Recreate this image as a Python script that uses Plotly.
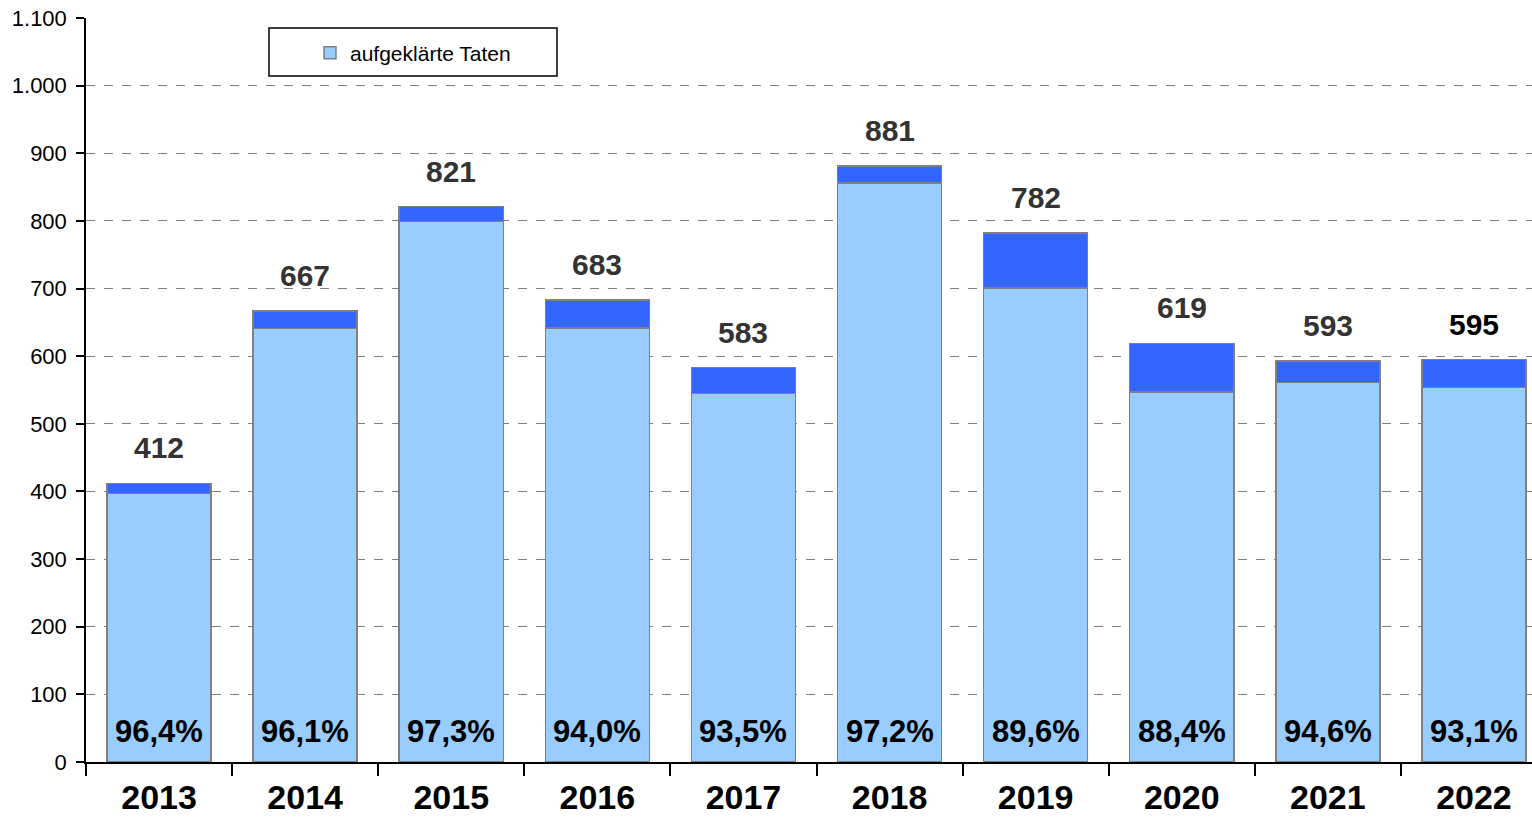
import plotly.graph_objects as go

years = ["2013", "2014", "2015", "2016", "2017", "2018", "2019", "2020", "2021", "2022"]
totals = [412, 667, 821, 683, 583, 881, 782, 619, 593, 595]
cleared = [397, 641, 799, 642, 545, 856, 701, 547, 561, 554]
rates = ["96,4%", "96,1%", "97,3%", "94,0%", "93,5%", "97,2%", "89,6%", "88,4%", "94,6%", "93,1%"]
uncleared = [t - c for t, c in zip(totals, cleared)]
total_labels = [str(t) for t in totals]
label_colors = ["#333333"] * 9 + ["#000000"]
y_ticks = [0, 100, 200, 300, 400, 500, 600, 700, 800, 900, 1000, 1100]
y_ticktext = ["0", "100", "200", "300", "400", "500", "600", "700", "800", "900", "1.000", "1.100"]

FONT = "Liberation Sans, Arial, sans-serif"

fig = go.Figure()
fig.add_trace(go.Bar(
    x=years, y=cleared, name="aufgeklärte Taten",
    marker=dict(color="#99CCFF", line=dict(color="#808080", width=1.5)),
))
fig.add_trace(go.Bar(
    x=years, y=uncleared, name="nicht aufgeklärt", showlegend=False,
    marker=dict(color="#3366FF", line=dict(color="#808080", width=1.5)),
))

annotations = []
# category axis: annotations are placed by category index
for i, (tot, lab, col) in enumerate(zip(totals, total_labels, label_colors)):
    annotations.append(dict(
        x=i, y=tot, xref="x", yref="y", text=lab, showarrow=False,
        yanchor="bottom", yshift=17,
        font=dict(family=FONT, size=30, color=col, weight="bold"),
    ))
for i, r in enumerate(rates):
    annotations.append(dict(
        x=i, y=0, xref="x", yref="y", text=r, showarrow=False,
        yanchor="bottom", yshift=11,
        font=dict(family=FONT, size=31, color="#000000", weight="bold"),
    ))

# plot area: x 86..1532 px, the last slot is cut by the right edge as in the reference
slot_px = 146.1
plot_w = 1532 - 86
x_range = [-0.5, -0.5 + plot_w / slot_px]

fig.update_layout(
    barmode="stack", bargap=0.288,
    width=1532, height=818,
    margin=dict(l=86, r=0, t=18, b=56, autoexpand=False),
    plot_bgcolor="white", paper_bgcolor="white",
    legend=dict(
        x=(413 - 86) / plot_w, y=(762 - 53) / 744, xanchor="center", yanchor="middle",
        bgcolor="rgba(0,0,0,0)", borderwidth=0,
        font=dict(family=FONT, size=21, color="#000000"),
        itemwidth=30,
    ),
    shapes=[dict(type="rect", xref="paper", yref="paper",
                 x0=(269 - 86) / plot_w, x1=(557 - 86) / plot_w,
                 y0=(762 - 76) / 744, y1=(762 - 28) / 744,
                 line=dict(color="#000000", width=1.5), fillcolor="rgba(0,0,0,0)", layer="above")],
    annotations=annotations,
    showlegend=True,
)
fig.update_xaxes(
    type="category", range=x_range, showgrid=False, showline=True, linecolor="#000000", linewidth=1.5,
    ticks="outside", tickson="boundaries", ticklen=12, tickcolor="#000000", tickwidth=1.5,
    ticklabelstandoff=4,
    tickfont=dict(family=FONT, size=34, color="#000000", weight="bold"),
    tickangle=0, automargin=False,
)
fig.update_yaxes(
    range=[0, 1100], tickvals=y_ticks, ticktext=y_ticktext,
    showgrid=True, gridcolor="#808080", griddash="dash", gridwidth=1,
    showline=True, linecolor="#000000", linewidth=1.5,
    ticks="outside", ticklen=8, tickcolor="#000000", tickwidth=1.5,
    ticklabelstandoff=5,
    tickfont=dict(family=FONT, size=22, color="#000000"),
    zeroline=False, automargin=False,
)
fig.write_html("out.html", config={"displayModeBar": False},
               post_script="document.body.style.margin='0';")
